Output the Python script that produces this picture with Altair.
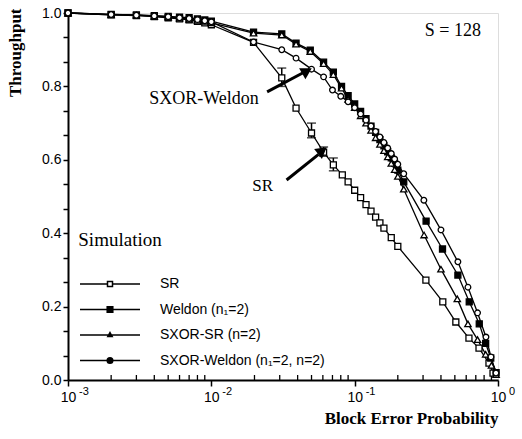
import altair as alt
import pandas as pd

# ---- data ----
series_names = ["SR", "Weldon (n₁=2)", "SXOR-SR (n=2)", "SXOR-Weldon  (n₁=2, n=2)"]

sr_p = [0.001, 0.002, 0.003, 0.004, 0.005, 0.006, 0.007, 0.008, 0.009, 0.01, 0.0197,
        0.031, 0.039, 0.05, 0.0607, 0.071, 0.082, 0.09, 0.1, 0.11, 0.12, 0.13, 0.14,
        0.15, 0.16, 0.18, 0.2, 0.314, 0.412, 0.508, 0.627, 0.737, 0.865, 0.923]
sr_t = [1.0, 0.995, 0.993, 0.99, 0.987, 0.984, 0.981, 0.977, 0.973, 0.968, 0.92,
        0.823, 0.741, 0.673, 0.621, 0.586, 0.559, 0.54, 0.517, 0.497, 0.478, 0.46, 0.444,
        0.428, 0.414, 0.388, 0.364, 0.272, 0.213, 0.158, 0.114, 0.087, 0.046, 0.019]

wel_p = [0.001, 0.002, 0.003, 0.004, 0.005, 0.006, 0.007, 0.008, 0.009, 0.01, 0.0197,
         0.031, 0.039, 0.049, 0.0607, 0.071, 0.081, 0.09, 0.1, 0.11, 0.12, 0.13, 0.14,
         0.15, 0.16, 0.17, 0.18, 0.19, 0.2, 0.22, 0.315, 0.41, 0.525, 0.63, 0.74, 0.82,
         0.89, 0.97]
wel_t = [1.0, 0.996, 0.995, 0.993, 0.991, 0.989, 0.987, 0.984, 0.981, 0.978, 0.948,
         0.943, 0.918, 0.899, 0.866, 0.839, 0.80, 0.775, 0.752, 0.732, 0.712, 0.692, 0.675,
         0.655, 0.638, 0.622, 0.605, 0.59, 0.572, 0.54, 0.433, 0.357, 0.286, 0.213, 0.153,
         0.1, 0.06, 0.02]

ssr_p = [0.001, 0.002, 0.003, 0.004, 0.005, 0.006, 0.007, 0.008, 0.009, 0.01, 0.0197,
         0.031, 0.039, 0.049, 0.0607, 0.071, 0.081, 0.09, 0.1, 0.11, 0.12, 0.13, 0.14,
         0.15, 0.16, 0.17, 0.18, 0.19, 0.2, 0.22, 0.305, 0.40, 0.52, 0.617, 0.72, 0.82,
         0.9, 0.97]
ssr_t = [1.0, 0.995, 0.994, 0.991, 0.989, 0.986, 0.983, 0.98, 0.977, 0.973, 0.945,
         0.94, 0.915, 0.895, 0.862, 0.832, 0.795, 0.765, 0.742, 0.72, 0.70, 0.68, 0.66,
         0.642, 0.625, 0.608, 0.59, 0.573, 0.555, 0.52, 0.395, 0.302, 0.221, 0.153, 0.11,
         0.07, 0.04, 0.015]

swl_p = [0.001, 0.002, 0.003, 0.004, 0.005, 0.006, 0.007, 0.008, 0.009, 0.01, 0.0197,
         0.031, 0.039, 0.05, 0.0607, 0.07, 0.08, 0.09, 0.1, 0.11, 0.12, 0.13, 0.14, 0.15,
         0.16, 0.17, 0.18, 0.19, 0.2, 0.22, 0.304, 0.40, 0.525, 0.617, 0.72, 0.824, 0.893,
         0.968]
swl_t = [1.0, 0.996, 0.994, 0.992, 0.99, 0.987, 0.985, 0.982, 0.979, 0.976, 0.921,
         0.9, 0.877, 0.847, 0.826, 0.79, 0.773, 0.758, 0.742, 0.725, 0.708, 0.692, 0.677,
         0.662, 0.647, 0.632, 0.617, 0.602, 0.588, 0.562, 0.49, 0.409, 0.322, 0.253, 0.183,
         0.117, 0.063, 0.019]

# error bars on the SR curve
eb_p = [0.031, 0.05, 0.0607, 0.071]
eb_lo = [0.80, 0.66, 0.61, 0.57]
eb_hi = [0.85, 0.70, 0.635, 0.605]

x_major = [0.001, 0.01, 0.1, 1.0]
x_exp = ["-3", "-2", "-1", "0"]
x_minor = [m * 10 ** k for k in (-3, -2, -1) for m in range(2, 10)]
y_ticks = [i / 15 for i in range(16)]

# ---- tables ----
rows = []
for name, ps, ts in zip(series_names, [sr_p, wel_p, ssr_p, swl_p], [sr_t, wel_t, ssr_t, swl_t]):
    for p, t in zip(ps, ts):
        rows.append({"series": name, "p": p, "t": t})
df = pd.DataFrame(rows)
eb = pd.DataFrame({"p": eb_p, "lo": eb_lo, "hi": eb_hi})
exp_df = pd.DataFrame({"p": x_major, "e": x_exp})
minor_df = pd.DataFrame({"p": x_minor})

W, H = 430, 367
SERIF = "Liberation Serif"
SANS = "Liberation Sans"

xs = alt.Scale(type="log", domain=[0.001, 1])
ys = alt.Scale(domain=[0, 1])

x_axis = alt.Axis(values=x_major, labelExpr="'10'", grid=False, tickSize=6,
                  labelFont=SANS, labelFontSize=14, labelColor="black",
                  labelFlush=False, labelOverlap=False, labelBound=False,
                  labelPadding=4, domainColor="black", domainWidth=2, tickColor="black",
                  tickWidth=1.5, titleFont=SERIF, titleFontSize=17, titleFontWeight="bold",
                  titleColor="black", titleAnchor="end", titleX=W, titleY=38,
                  titleAlign="right", titleBaseline="middle")
y_axis = alt.Axis(values=y_ticks,
                  labelExpr="abs(datum.value*5 - round(datum.value*5)) < 0.01 ? format(datum.value, '.1f') : ''",
                  labelOverlap=False, labelFlush=False, labelBound=False,
                  grid=False, tickSize=5, labelFont=SANS, labelFontSize=14, labelColor="black",
                  labelPadding=2, domainColor="black", domainWidth=2, tickColor="black",
                  tickWidth=1.5, titleFont=SERIF, titleFontSize=17, titleFontWeight="bold",
                  titleColor="black", titleX=-53, titleY=-5, titleAngle=-90,
                  titleAlign="right", titleBaseline="middle")

def X(field="p"):
    return alt.X(f"{field}:Q", scale=xs, axis=x_axis, title="Block Error Probability")

def Y(field="t"):
    return alt.Y(f"{field}:Q", scale=ys, axis=y_axis, title="Throughput")

base = alt.Chart(df)

lines = base.mark_line(color="black", strokeWidth=1.3).encode(
    x=X(), y=Y(), detail="series:N", order="p:Q")

def pts(name, shape, fill, size):
    return alt.Chart(df[df.series == name]).mark_point(
        shape=shape, filled=True, fill=fill, stroke="black", strokeWidth=1.3,
        size=size, opacity=1).encode(x=X(), y=Y())

p_sr = pts(series_names[0], "square", "white", 36)
p_wel = pts(series_names[1], "square", "black", 36)
p_ssr = pts(series_names[2], "triangle-up", "white", 40)
p_swl = pts(series_names[3], "circle", "white", 32)

# legend via invisible layer with custom line+marker symbols (stroke only)
paths = [
    "M-3,0H-0.25M0.25,0H3M-0.25,-0.25H0.25V0.25H-0.25Z",
    "M-3,0H3M-0.28,-0.28H0.28V0.28H-0.28ZM-0.28,-0.14H0.28M-0.28,0.14H0.28",
    "M-3,0H3M0,-0.24L0.22,0.16H-0.22ZM0,-0.1L0.1,0.1H-0.1Z",
    "M-3,0H3M0.28,0A0.28,0.28 0 1,1 -0.28,0A0.28,0.28 0 1,1 0.28,0ZM0.14,0A0.14,0.14 0 1,1 -0.14,0A0.14,0.14 0 1,1 0.14,0Z",
]
leg = alt.Legend(orient="none", legendX=31, legendY=260, title=None, padding=0,
                 labelFont=SANS, labelFontSize=14, labelColor="black", labelOffset=39,
                 symbolSize=400, symbolStrokeWidth=1.5, symbolStrokeColor="black",
                 symbolOpacity=1, symbolFillColor="white", rowPadding=7.5, labelLimit=300)
legend_layer = base.mark_point(opacity=0, filled=False, color="black", strokeWidth=1.5).encode(
    x=X(), y=Y(),
    shape=alt.Shape("series:N", scale=alt.Scale(domain=series_names, range=paths), legend=leg),
)

# error bars
eb_rule = alt.Chart(eb).mark_rule(color="black", strokeWidth=1.5).encode(
    x=X(), y=Y("lo"), y2="hi:Q")
eb_cap_lo = alt.Chart(eb).mark_tick(color="black", orient="horizontal", size=9, thickness=1.5).encode(
    x=X(), y=Y("lo"))
eb_cap_hi = alt.Chart(eb).mark_tick(color="black", orient="horizontal", size=9, thickness=1.5).encode(
    x=X(), y=Y("hi"))

# minor ticks on the x axis (inside)
minor = alt.Chart(minor_df).mark_rule(color="black", strokeWidth=1.3).encode(
    x=X(), y=alt.value(H), y2=alt.value(H - 5))

# exponents of x labels
exps = alt.Chart(exp_df).mark_text(font=SANS, fontSize=11, align="left", baseline="middle",
                                   dx=11, color="black").encode(
    x=X(), y=alt.value(H + 12), text="e:N")

# annotations
ann = pd.DataFrame({
    "p": [0.484, 0.0089, 0.0228],
    "t": [0.951, 0.766, 0.529],
    "txt": ["S = 128", "SXOR-Weldon", "SR"],
    "fs": [18, 18, 17],
})
ann_text = alt.Chart(ann).mark_text(font=SERIF, color="black").encode(
    x=X(), y=Y(), text="txt:N",
    size=alt.Size("fs:Q", scale=None, legend=None))

sim_df = pd.DataFrame({"p": [0.00118], "t": [0.381], "txt": ["Simulation"]})
sim_text = alt.Chart(sim_df).mark_text(font=SERIF, fontSize=19, color="black", align="left",
                                       baseline="middle").encode(
    x=X(), y=Y(), text="txt:N")

arrows = pd.DataFrame({
    "id": ["a", "a", "b", "b"],
    "p": [0.0245, 0.044, 0.0335, 0.056],
    "t": [0.785, 0.838, 0.545, 0.615],
})
arrow_lines = alt.Chart(arrows).mark_line(color="black", strokeWidth=3).encode(
    x=X(), y=Y(), detail="id:N")
heads = pd.DataFrame({"p": [0.0465, 0.0595], "t": [0.842, 0.625], "ang": [60, 52]})
arrow_heads = alt.Chart(heads).mark_point(shape="triangle-up", filled=True, color="black",
                                          size=160, opacity=1).encode(
    x=X(), y=Y(), angle=alt.Angle("ang:Q", scale=None))

chart = alt.layer(
    minor, lines, eb_rule, eb_cap_lo, eb_cap_hi, p_sr, p_wel, p_ssr, p_swl,
    legend_layer, exps, ann_text, sim_text, arrow_lines, arrow_heads
).resolve_scale(size="independent").properties(
    width=W, height=H,
    autosize=alt.AutoSizeParams(type="none"),
    padding={"left": 68, "top": 13, "right": 24, "bottom": 59},
).configure_view(stroke="black", strokeWidth=1.5).configure_axis(
    labelOverlap=False
).configure(background="white")

chart.save("out.html", embed_options={"renderer": "svg", "actions": False})
